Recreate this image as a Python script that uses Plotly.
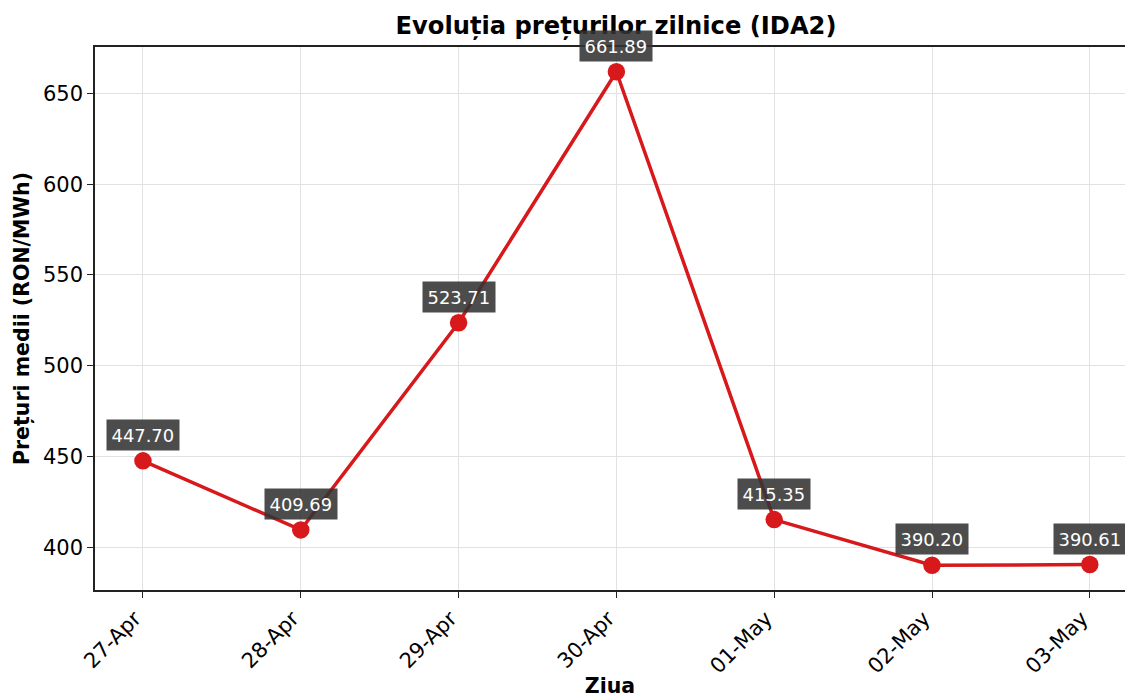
import plotly.graph_objects as go

days = ["27-Apr", "28-Apr", "29-Apr", "30-Apr", "01-May", "02-May", "03-May"]
prices = [447.70, 409.69, 523.71, 661.89, 415.35, 390.20, 390.61]
y_ticks = [400, 450, 500, 550, 600, 650]

title_text = "Evoluția prețurilor zilnice (IDA2)"
x_title = "Ziua"
y_title = "Prețuri medii (RON/MWh)"

FONT = "DejaVu Sans"
RED = "#d7191c"

xs = list(range(len(days)))

fig = go.Figure()
fig.add_trace(go.Scatter(
    x=xs, y=prices, mode="lines+markers",
    line=dict(color=RED, width=3.5),
    marker=dict(color=RED, size=17.5),
    showlegend=False, hoverinfo="skip",
))

for xi, v in zip(xs, prices):
    fig.add_annotation(
        x=xi, y=v, xref="x", yref="y",
        text=f"{v:.2f}", showarrow=False, yshift=26,
        font=dict(family=FONT, size=17.9, color="white"),
        bgcolor="rgba(51,51,51,0.88)", borderpad=4.5,
    )

fig.update_layout(
    width=1125, height=698,
    margin=dict(l=95, r=0, t=47, b=108),
    paper_bgcolor="white", plot_bgcolor="white",
    font=dict(family=FONT, color="black"),
    title=dict(
        text=title_text, x=616 / 1125, xref="container", xanchor="center",
        y=1 - 26 / 698, yref="container", yanchor="middle",
        font=dict(family=FONT, size=24.2, weight="bold", color="black"),
    ),
)

fig.update_xaxes(
    range=[-0.304, 6.223], automargin=False,
    tickmode="array", tickvals=xs, ticktext=days, tickangle=-45,
    tickfont=dict(family=FONT, size=21, color="black"),
    ticklabelshift=-8,
    ticks="outside", ticklen=6, tickwidth=1.2, tickcolor="#222",
    showline=True, linecolor="#222", linewidth=1.5, mirror=True,
    showgrid=True, gridcolor="#e2e2e2", gridwidth=1,
    zeroline=False,
    title=dict(text=x_title, standoff=8,
               font=dict(family=FONT, size=20.5, weight="bold", color="black")),
)
fig.update_yaxes(
    range=[376.6, 675.5], automargin=False,
    tickmode="array", tickvals=y_ticks,
    tickfont=dict(family=FONT, size=21, color="black"),
    ticks="outside", ticklen=6, tickwidth=1.2, tickcolor="#222",
    showline=True, linecolor="#222", linewidth=1.5, mirror=False,
    showgrid=True, gridcolor="#e2e2e2", gridwidth=1,
    zeroline=False,
    title=dict(text=y_title, standoff=8,
               font=dict(family=FONT, size=20.5, weight="bold", color="black")),
)

fig.write_html("out.html", config={"displayModeBar": False},
               post_script="document.body.style.margin='0';")
